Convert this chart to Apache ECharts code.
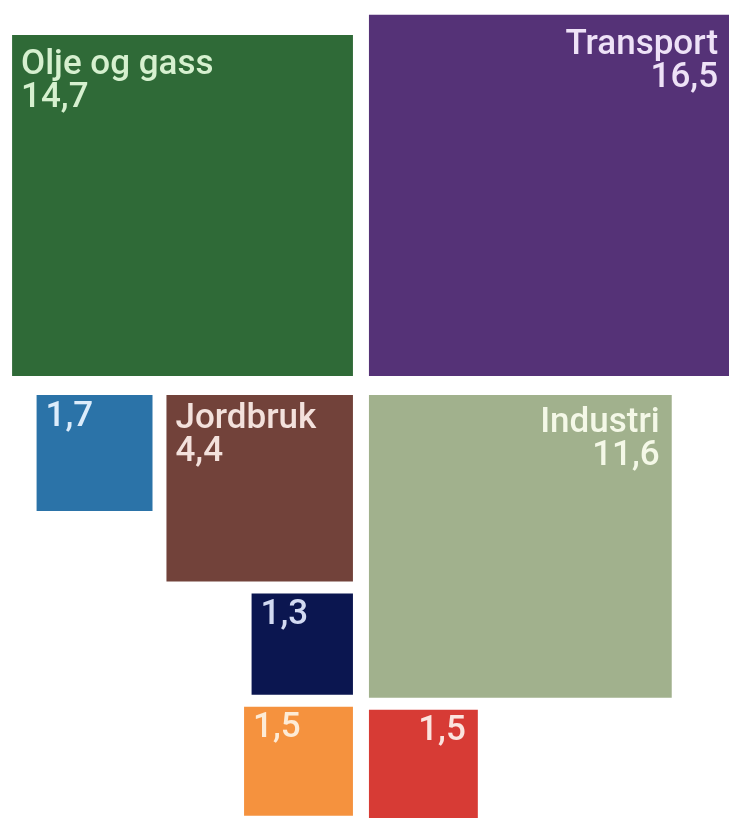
<!DOCTYPE html>
<html>
<head>
<meta charset="utf-8">
<title>Utslipp etter kilde</title>
<script src="https://cdn.jsdelivr.net/npm/echarts@6/dist/echarts.min.js"></script>
<style>
  html, body { margin: 0; padding: 0; background: #ffffff; }
  #chart { width: 729px; height: 818px; }
</style>
</head>
<body>
<div id="chart"></div>
<script>
// Emission sources (million tonnes CO2-eq); square area is proportional to value
const names  = ['Olje og gass', 'Transport', '', 'Jordbruk', 'Industri', '', '', ''];
const values = [14.7, 16.5, 1.7, 4.4, 11.6, 1.3, 1.5, 1.5];
const fills  = ['#2f6a37', '#553277', '#2b73a8', '#72423a', '#a1b18d', '#0b1650', '#f5923e', '#d73b35'];
const inks   = ['#d6f0cf', '#eee2f7', '#dcecfb', '#f3e1dc', '#f4f8e7', '#d2daf2', '#fdebd6', '#fbe4df'];

// Gaps between squares, in side units (side = sqrt(value))
const HALF_GAP_X = 0.09;
const HALF_GAP_Y = 0.107;
const STACK_GAP = 0.135;
const SIDE_GAP = 0.157;

// Arrange the squares around a central cross: each item gets its top-left corner
function layout() {
  const side = values.map(v => Math.sqrt(v));
  const pos = new Array(values.length);
  // top-left quadrant, grows up and left from the centre
  pos[0] = [-HALF_GAP_X - side[0], -HALF_GAP_Y - side[0]];
  // top-right quadrant
  pos[1] = [HALF_GAP_X, -HALF_GAP_Y - side[1]];
  // bottom-left column, stacked downwards, right-aligned
  let y = HALF_GAP_Y;
  [3, 5, 6].forEach(i => {
    pos[i] = [-HALF_GAP_X - side[i], y];
    y += side[i] + STACK_GAP;
  });
  // small square beside Jordbruk, top-aligned
  pos[2] = [pos[3][0] - SIDE_GAP - side[2], HALF_GAP_Y];
  // bottom-right column, stacked downwards, left-aligned
  y = HALF_GAP_Y;
  [4, 7].forEach(i => {
    pos[i] = [HALF_GAP_X, y];
    y += side[i] + STACK_GAP;
  });
  return values.map((v, i) => [pos[i][0], pos[i][1], side[i], i]);
}

const fmt = v => v.toFixed(1).replace('.', ',');

const chart = echarts.init(document.getElementById('chart'), null, { renderer: 'canvas' });

chart.setOption({
  backgroundColor: '#ffffff',
  animation: false,
  grid: { left: 0, right: 0, top: 0, bottom: 0 },
  xAxis: { type: 'value', min: -4.06, max: 4.14, show: false },
  yAxis: { type: 'value', min: -4.335, max: 4.865, inverse: true, show: false },
  series: [{
    type: 'custom',
    clip: false,
    data: layout(),
    renderItem: function (params, api) {
      const i = api.value(3);
      const s = api.value(2);
      const p = api.coord([api.value(0), api.value(1)]);
      const size = api.size([s, s]);
      const w = size[0], h = size[1];
      const rightSide = api.value(0) > 0;
      const label = (names[i] ? names[i] + '\n' : '') + fmt(values[i]);
      // larger squares get a slightly deeper label inset
      const capOffset = 5 + 0.035 * w;
      return {
        type: 'group',
        children: [{
          type: 'rect',
          shape: { x: p[0], y: p[1], width: w, height: h },
          style: { fill: fills[i] }
        }, {
          type: 'text',
          style: {
            text: label,
            x: rightSide ? p[0] + w - 12 : p[0] + 9,
            y: p[1] + capOffset - 3.6,
            align: rightSide ? 'right' : 'left',
            verticalAlign: 'top',
            fill: inks[i],
            fontFamily: 'Roboto',
            fontSize: 35,
            fontWeight: 500,
            lineHeight: 33
          }
        }]
      };
    }
  }]
});
</script>
</body>
</html>
